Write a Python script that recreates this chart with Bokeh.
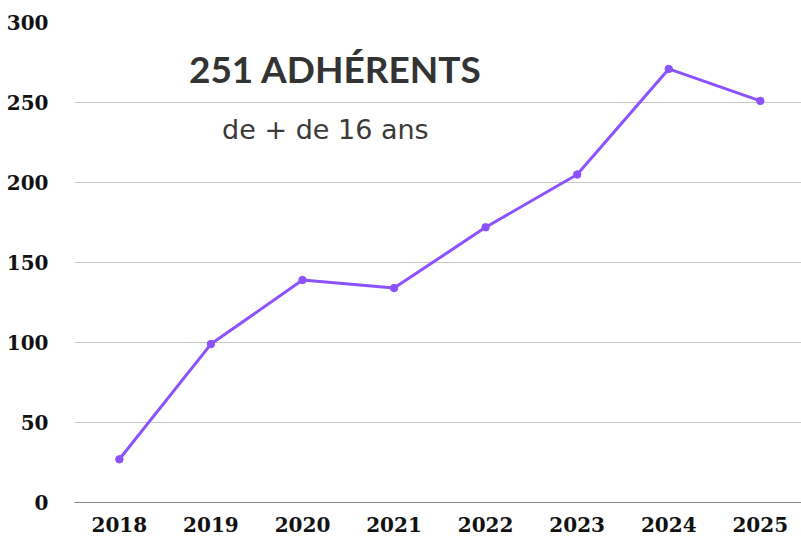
from bokeh.plotting import figure
from bokeh.models import Range1d, Label, FixedTicker
from bokeh.embed import file_html
from bokeh.resources import INLINE

years = [2018, 2019, 2020, 2021, 2022, 2023, 2024, 2025]
members = [27, 99, 139, 134, 172, 205, 271, 251]
y_ticks = [0, 50, 100, 150, 200, 250, 300]
title_text = "251 ADHÉRENTS"
subtitle_text = "de + de 16 ans"

p = figure(width=801, height=537, output_backend="svg", toolbar_location=None,
           x_range=Range1d(2017.51, 2025.45), y_range=Range1d(0, 300),
           min_border_top=22, min_border_right=0, min_border_left=74, min_border_bottom=35)
p.outline_line_color = None
p.background_fill_color = "white"
p.border_fill_color = "white"

p.line(years, members, line_color="#8c52ff", line_width=3)
p.scatter(years, members, size=7.5, fill_color="#8c52ff", line_color="#8c52ff")

p.xaxis.ticker = FixedTicker(ticks=years)
p.yaxis.ticker = FixedTicker(ticks=y_ticks)
p.xgrid.grid_line_color = None
p.ygrid.grid_line_color = "#c8c8c8"
p.ygrid.grid_line_width = 1

for ax in (p.xaxis, p.yaxis):
    ax.major_tick_line_color = None
    ax.minor_tick_line_color = None
    ax.major_label_text_font = "DejaVu Serif"
    ax.major_label_text_font_style = "bold"
    ax.major_label_text_font_size = "20px"
    ax.major_label_text_color = "#111111"
p.yaxis.axis_line_color = None
p.xaxis.axis_line_color = "#888888"
p.yaxis.major_label_standoff = 20
p.xaxis.major_label_standoff = 8

p.add_layout(Label(x=2020.36, y=271, text=title_text,
                   text_font="Lato", text_font_style="bold", text_font_size="37px",
                   text_color="#333333", text_align="center", text_baseline="middle"))
p.add_layout(Label(x=2020.25, y=233, text=subtitle_text,
                   text_font="DejaVu Sans", text_font_size="27px",
                   text_color="#3a3a3a", text_align="center", text_baseline="middle"))

open("out.html", "w").write(file_html(p, INLINE))
